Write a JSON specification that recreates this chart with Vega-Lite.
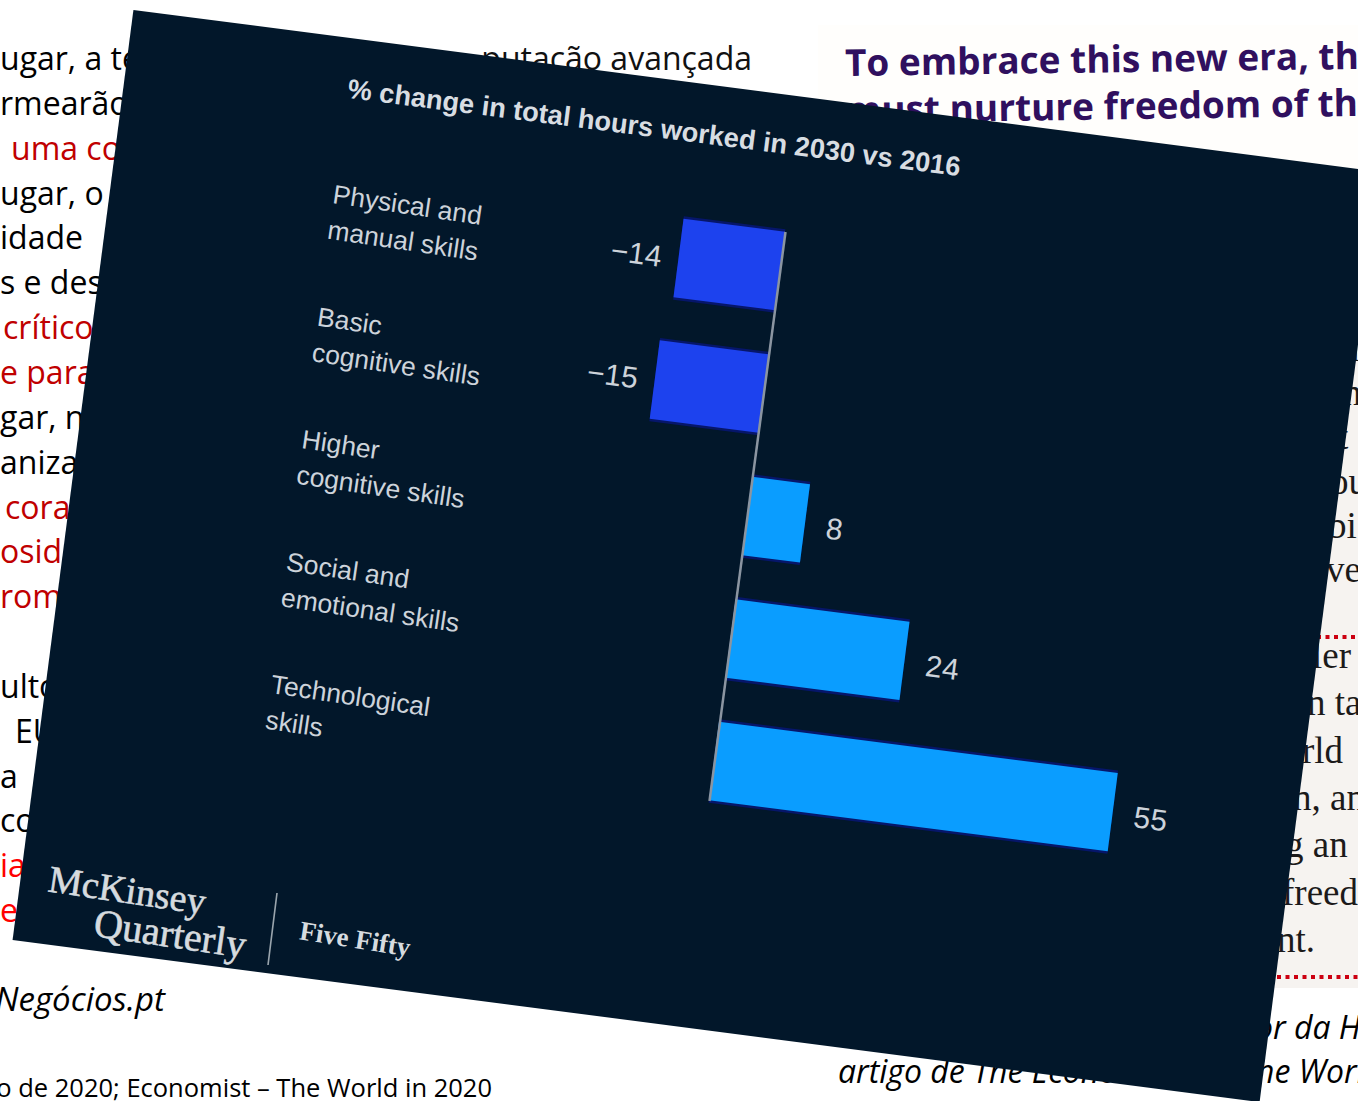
{
  "$schema": "https://vega.github.io/schema/vega-lite/v6.json",
  "width": 1358,
  "height": 1101,
  "padding": 0,
  "autosize": "none",
  "background": "#ffffff",
  "config": {"view": {"stroke": null}, "axis": {"disable": true}, "legend": {"disable": true}},
  "datasets": {
    "skills": [
      {"skill": "Physical and\nmanual skills", "value": -14},
      {"skill": "Basic\ncognitive skills", "value": -15},
      {"skill": "Higher\ncognitive skills", "value": 8},
      {"skill": "Social and\nemotional skills", "value": 24},
      {"skill": "Technological\nskills", "value": 55}
    ],
    "leftPage": [
      {"line": 0, "text": "ugar, a te", "tone": "black"},
      {"line": 1, "text": "rmearão", "tone": "black"},
      {"line": 2, "text": "uma co", "tone": "dark"},
      {"line": 3, "text": "ugar,  o", "tone": "black"},
      {"line": 4, "text": "idade", "tone": "black"},
      {"line": 5, "text": "s e des", "tone": "black"},
      {"line": 6, "text": "crítico", "tone": "dark"},
      {"line": 7, "text": "e para", "tone": "dark"},
      {"line": 8, "text": "gar, n", "tone": "black"},
      {"line": 9, "text": "anizaç", "tone": "black"},
      {"line": 10, "text": "cora", "tone": "dark"},
      {"line": 11, "text": "osida", "tone": "dark"},
      {"line": 12, "text": "rom", "tone": "dark"},
      {"line": 14, "text": "ulto", "tone": "black"},
      {"line": 15, "text": "EU", "tone": "black"},
      {"line": 16, "text": "a", "tone": "black"},
      {"line": 17, "text": "co", "tone": "black"},
      {"line": 18, "text": "ia", "tone": "bright"},
      {"line": 19, "text": "er", "tone": "bright"}
    ],
    "rightUpper": [
      {"line": 0, "text": "l"},
      {"line": 1, "text": "n"},
      {"line": 2, "text": "t"},
      {"line": 3, "text": "ou"},
      {"line": 4, "text": "bi"},
      {"line": 5, "text": "ve"}
    ],
    "rightLower": [
      {"line": 0, "text": "ler"},
      {"line": 1, "text": "n ta"},
      {"line": 2, "text": "rld"},
      {"line": 3, "text": "n, an"},
      {"line": 4, "text": "g an"},
      {"line": 5, "text": "freed"},
      {"line": 6, "text": "nt."}
    ]
  },
  "layer": [
    {
      "data": {"values": [{"part": "page top"}]},
      "mark": {"type": "rect", "color": "#fffefc"},
      "encoding": {
        "x": {"datum": 818, "type": "quantitative", "scale": {"domain": [0, 1358], "nice": false, "zero": false}},
        "x2": {"datum": 1358},
        "y": {"datum": 25, "type": "quantitative", "scale": {"domain": [0, 1101], "reverse": true, "nice": false, "zero": false}},
        "y2": {"datum": 340}
      }
    },
    {
      "data": {"values": [{"part": "page body"}]},
      "mark": {"type": "rect", "color": "#f6f3f0"},
      "encoding": {
        "x": {"datum": 1200, "type": "quantitative", "scale": {"domain": [0, 1358], "nice": false, "zero": false}},
        "x2": {"datum": 1358},
        "y": {"datum": 340, "type": "quantitative", "scale": {"domain": [0, 1101], "reverse": true, "nice": false, "zero": false}},
        "y2": {"datum": 988}
      }
    },
    {
      "data": {"name": "leftPage"},
      "transform": [
        {"calculate": "60 + 44.85 * datum.line", "as": "rowY"},
        {"calculate": "[0,0,11,0,0,0,3,0,0,0,5,0,0,0,0,15,0,0,0,0][datum.line]", "as": "rowX"}
      ],
      "mark": {"type": "text", "align": "left", "baseline": "middle", "font": "Open Sans", "fontSize": 32},
      "encoding": {
        "x": {"field": "rowX", "type": "quantitative", "scale": {"domain": [0, 1358], "nice": false, "zero": false}},
        "y": {"field": "rowY", "type": "quantitative", "scale": {"domain": [0, 1101], "reverse": true, "nice": false, "zero": false}},
        "text": {"field": "text"},
        "color": {"field": "tone", "type": "nominal", "scale": {"domain": ["black", "dark", "bright"], "range": ["#000000", "#c00000", "#ff0000"]}}
      }
    },
    {
      "data": {"values": [{"text": "putação avançada"}]},
      "mark": {"type": "text", "align": "right", "baseline": "middle", "font": "Open Sans", "fontSize": 32, "color": "#111111"},
      "encoding": {
        "x": {"datum": 752, "type": "quantitative", "scale": {"domain": [0, 1358], "nice": false, "zero": false}},
        "y": {"datum": 60, "type": "quantitative", "scale": {"domain": [0, 1101], "reverse": true, "nice": false, "zero": false}},
        "text": {"field": "text"}
      }
    },
    {
      "data": {"values": [{"text": "Negócios.pt"}]},
      "mark": {"type": "text", "align": "right", "baseline": "middle", "font": "Open Sans", "fontSize": 33, "fontStyle": "italic", "color": "#000000"},
      "encoding": {
        "x": {"datum": 165, "type": "quantitative", "scale": {"domain": [0, 1358], "nice": false, "zero": false}},
        "y": {"datum": 1001, "type": "quantitative", "scale": {"domain": [0, 1101], "reverse": true, "nice": false, "zero": false}},
        "text": {"field": "text"}
      }
    },
    {
      "data": {"values": [{"text": "o de 2020; Economist – The World in 2020"}]},
      "mark": {"type": "text", "align": "right", "baseline": "middle", "font": "Open Sans", "fontSize": 25.5, "color": "#000000"},
      "encoding": {
        "x": {"datum": 492, "type": "quantitative", "scale": {"domain": [0, 1358], "nice": false, "zero": false}},
        "y": {"datum": 1089, "type": "quantitative", "scale": {"domain": [0, 1101], "reverse": true, "nice": false, "zero": false}},
        "text": {"field": "text"}
      }
    },
    {
      "data": {"values": [{"text": "To embrace this new era, th"}]},
      "mark": {"type": "text", "align": "left", "baseline": "middle", "font": "Open Sans", "fontWeight": "bold", "fontSize": 37, "angle": 359.2, "color": "#30105f"},
      "encoding": {
        "x": {"datum": 845, "type": "quantitative", "scale": {"domain": [0, 1358], "nice": false, "zero": false}},
        "y": {"datum": 65, "type": "quantitative", "scale": {"domain": [0, 1101], "reverse": true, "nice": false, "zero": false}},
        "text": {"field": "text"}
      }
    },
    {
      "data": {"values": [{"text": "must nurture freedom of th"}]},
      "mark": {"type": "text", "align": "right", "baseline": "middle", "font": "Open Sans", "fontWeight": "bold", "fontSize": 37, "angle": 359.2, "color": "#30105f"},
      "encoding": {
        "x": {"datum": 1358, "type": "quantitative", "scale": {"domain": [0, 1358], "nice": false, "zero": false}},
        "y": {"datum": 105, "type": "quantitative", "scale": {"domain": [0, 1101], "reverse": true, "nice": false, "zero": false}},
        "text": {"field": "text"}
      }
    },
    {
      "data": {"name": "rightUpper"},
      "transform": [
        {"calculate": "350 + 44.2 * datum.line", "as": "rowY"},
        {"calculate": "[1350,1343,1338,1330,1328,1326][datum.line]", "as": "rowX"}
      ],
      "mark": {"type": "text", "align": "left", "baseline": "middle", "font": "Liberation Serif", "fontSize": 37, "color": "#1c1a1a"},
      "encoding": {
        "x": {"field": "rowX", "type": "quantitative", "scale": {"domain": [0, 1358], "nice": false, "zero": false}},
        "y": {"field": "rowY", "type": "quantitative", "scale": {"domain": [0, 1101], "reverse": true, "nice": false, "zero": false}},
        "text": {"field": "text"}
      }
    },
    {
      "data": {"name": "rightLower"},
      "transform": [
        {"calculate": "657 + 47.3 * datum.line", "as": "rowY"},
        {"calculate": "[1312,1307,1302,1293,1285,1282,1277][datum.line]", "as": "rowX"}
      ],
      "mark": {"type": "text", "align": "left", "baseline": "middle", "font": "Liberation Serif", "fontSize": 37, "color": "#1c1a1a"},
      "encoding": {
        "x": {"field": "rowX", "type": "quantitative", "scale": {"domain": [0, 1358], "nice": false, "zero": false}},
        "y": {"field": "rowY", "type": "quantitative", "scale": {"domain": [0, 1101], "reverse": true, "nice": false, "zero": false}},
        "text": {"field": "text"}
      }
    },
    {
      "data": {"values": [{"part": "rule above"}]},
      "mark": {"type": "rule", "color": "#cc0011", "strokeWidth": 4, "strokeDash": [4, 4.5]},
      "encoding": {
        "x": {"datum": 1300, "type": "quantitative", "scale": {"domain": [0, 1358], "nice": false, "zero": false}},
        "x2": {"datum": 1358},
        "y": {"datum": 637, "type": "quantitative", "scale": {"domain": [0, 1101], "reverse": true, "nice": false, "zero": false}},
        "y2": {"datum": 637}
      }
    },
    {
      "data": {"values": [{"part": "rule below"}]},
      "mark": {"type": "rule", "color": "#cc0011", "strokeWidth": 4, "strokeDash": [4, 4.5]},
      "encoding": {
        "x": {"datum": 1260, "type": "quantitative", "scale": {"domain": [0, 1358], "nice": false, "zero": false}},
        "x2": {"datum": 1358},
        "y": {"datum": 977, "type": "quantitative", "scale": {"domain": [0, 1101], "reverse": true, "nice": false, "zero": false}},
        "y2": {"datum": 977}
      }
    },
    {
      "data": {"values": [{"text": "artigo de The Economist"}]},
      "mark": {"type": "text", "align": "left", "baseline": "middle", "font": "Open Sans", "fontSize": 32, "fontStyle": "italic", "color": "#000000"},
      "encoding": {
        "x": {"datum": 838, "type": "quantitative", "scale": {"domain": [0, 1358], "nice": false, "zero": false}},
        "y": {"datum": 1073, "type": "quantitative", "scale": {"domain": [0, 1101], "reverse": true, "nice": false, "zero": false}},
        "text": {"field": "text"}
      }
    },
    {
      "data": {"values": [{"text": "or da Harvard"}]},
      "mark": {"type": "text", "align": "left", "baseline": "middle", "font": "Open Sans", "fontSize": 32, "fontStyle": "italic", "color": "#000000"},
      "encoding": {
        "x": {"datum": 1255, "type": "quantitative", "scale": {"domain": [0, 1358], "nice": false, "zero": false}},
        "y": {"datum": 1029, "type": "quantitative", "scale": {"domain": [0, 1101], "reverse": true, "nice": false, "zero": false}},
        "text": {"field": "text"}
      }
    },
    {
      "data": {"values": [{"text": "he World"}]},
      "mark": {"type": "text", "align": "left", "baseline": "middle", "font": "Open Sans", "fontSize": 32, "fontStyle": "italic", "color": "#000000"},
      "encoding": {
        "x": {"datum": 1256, "type": "quantitative", "scale": {"domain": [0, 1358], "nice": false, "zero": false}},
        "y": {"datum": 1073, "type": "quantitative", "scale": {"domain": [0, 1101], "reverse": true, "nice": false, "zero": false}},
        "text": {"field": "text"}
      }
    },
    {
      "data": {"values": [{"part": "chart panel"}]},
      "mark": {"type": "rule", "color": "#02172a", "strokeWidth": 938, "strokeCap": "butt"},
      "encoding": {
        "x": {"datum": 73, "type": "quantitative", "scale": {"domain": [0, 1358], "nice": false, "zero": false}},
        "x2": {"datum": 1320},
        "y": {"datum": 475, "type": "quantitative", "scale": {"domain": [0, 1101], "reverse": true, "nice": false, "zero": false}},
        "y2": {"datum": 637}
      }
    },
    {
      "data": {"name": "skills"},
      "transform": [
        {"window": [{"op": "row_number", "as": "rank"}]},
        {"calculate": "780 - 16.5 * (datum.rank - 1)", "as": "baseX"},
        {"calculate": "271 + 122.5 * (datum.rank - 1)", "as": "baseY"},
        {"calculate": "datum.baseX + 7.25 * datum.value", "as": "endX"},
        {"calculate": "datum.baseY + 0.93 * datum.value", "as": "endY"}
      ],
      "layer": [
        {
          "mark": {"type": "rule", "color": "#06166a", "strokeWidth": 84, "strokeCap": "butt"},
          "encoding": {
            "x": {"field": "baseX", "type": "quantitative", "scale": {"domain": [0, 1358], "nice": false, "zero": false}},
            "x2": {"field": "endX"},
            "y": {"field": "baseY", "type": "quantitative", "scale": {"domain": [0, 1101], "reverse": true, "nice": false, "zero": false}},
            "y2": {"field": "endY"}
          }
        },
        {
          "mark": {"type": "rule", "strokeWidth": 79, "strokeCap": "butt"},
          "encoding": {
            "x": {"field": "baseX", "type": "quantitative", "scale": {"domain": [0, 1358], "nice": false, "zero": false}},
            "x2": {"field": "endX"},
            "y": {"field": "baseY", "type": "quantitative", "scale": {"domain": [0, 1101], "reverse": true, "nice": false, "zero": false}},
            "y2": {"field": "endY"},
            "color": {"field": "value", "type": "quantitative", "scale": {"type": "threshold", "domain": [0], "range": ["#1d42ee", "#0a9dff"]}}
          }
        }
      ]
    },
    {
      "data": {"values": [{"part": "zero line"}]},
      "mark": {"type": "rule", "color": "#8b95a1", "strokeWidth": 2.5},
      "encoding": {
        "x": {"datum": 785.5, "type": "quantitative", "scale": {"domain": [0, 1358], "nice": false, "zero": false}},
        "x2": {"datum": 709.5},
        "y": {"datum": 232, "type": "quantitative", "scale": {"domain": [0, 1101], "reverse": true, "nice": false, "zero": false}},
        "y2": {"datum": 801}
      }
    },
    {
      "data": {"name": "skills"},
      "transform": [
        {"window": [{"op": "row_number", "as": "rank"}]},
        {"calculate": "333 - 15.5 * (datum.rank - 1)", "as": "labelX"},
        {"calculate": "195 + 122.5 * (datum.rank - 1)", "as": "labelY"}
      ],
      "mark": {"type": "text", "align": "left", "baseline": "middle", "lineBreak": "\n", "lineHeight": 36, "font": "Liberation Sans", "fontSize": 26.5, "angle": 8.4, "color": "#cdd3da"},
      "encoding": {
        "x": {"field": "labelX", "type": "quantitative", "scale": {"domain": [0, 1358], "nice": false, "zero": false}},
        "y": {"field": "labelY", "type": "quantitative", "scale": {"domain": [0, 1101], "reverse": true, "nice": false, "zero": false}},
        "text": {"field": "skill"}
      }
    },
    {
      "data": {"name": "skills"},
      "transform": [
        {"window": [{"op": "row_number", "as": "rank"}]},
        {"filter": "datum.value > 0"},
        {"calculate": "780 - 16.5 * (datum.rank - 1) + 7.25 * datum.value + 21", "as": "labelX"},
        {"calculate": "271 + 122.5 * (datum.rank - 1) + 0.93 * datum.value + 6", "as": "labelY"}
      ],
      "mark": {"type": "text", "align": "left", "baseline": "middle", "font": "Liberation Sans", "fontSize": 30, "angle": 7.4, "color": "#cdd3da"},
      "encoding": {
        "x": {"field": "labelX", "type": "quantitative", "scale": {"domain": [0, 1358], "nice": false, "zero": false}},
        "y": {"field": "labelY", "type": "quantitative", "scale": {"domain": [0, 1101], "reverse": true, "nice": false, "zero": false}},
        "text": {"field": "value", "type": "quantitative", "format": "d"}
      }
    },
    {
      "data": {"name": "skills"},
      "transform": [
        {"window": [{"op": "row_number", "as": "rank"}]},
        {"filter": "datum.value < 0"},
        {"calculate": "780 - 16.5 * (datum.rank - 1) + 7.25 * datum.value - 17", "as": "labelX"},
        {"calculate": "271 + 122.5 * (datum.rank - 1) + 0.93 * datum.value", "as": "labelY"}
      ],
      "mark": {"type": "text", "align": "right", "baseline": "middle", "font": "Liberation Sans", "fontSize": 30, "angle": 7.4, "color": "#cdd3da"},
      "encoding": {
        "x": {"field": "labelX", "type": "quantitative", "scale": {"domain": [0, 1358], "nice": false, "zero": false}},
        "y": {"field": "labelY", "type": "quantitative", "scale": {"domain": [0, 1101], "reverse": true, "nice": false, "zero": false}},
        "text": {"field": "value", "type": "quantitative", "format": "d"}
      }
    },
    {
      "data": {"values": [{"text": "% change in total hours worked in 2030 vs 2016"}]},
      "mark": {"type": "text", "align": "center", "baseline": "middle", "font": "Liberation Sans", "fontWeight": "bold", "fontSize": 27.3, "angle": 7.3, "color": "#d8dde2"},
      "encoding": {
        "x": {"datum": 654, "type": "quantitative", "scale": {"domain": [0, 1358], "nice": false, "zero": false}},
        "y": {"datum": 129, "type": "quantitative", "scale": {"domain": [0, 1101], "reverse": true, "nice": false, "zero": false}},
        "text": {"field": "text"}
      }
    },
    {
      "data": {"values": [{"text": "McKinsey"}]},
      "mark": {"type": "text", "align": "center", "baseline": "middle", "font": "Liberation Serif", "fontSize": 38, "angle": 8.4, "color": "#d6dbdf", "stroke": "#d6dbdf", "strokeWidth": 0.6},
      "encoding": {
        "x": {"datum": 127, "type": "quantitative", "scale": {"domain": [0, 1358], "nice": false, "zero": false}},
        "y": {"datum": 892, "type": "quantitative", "scale": {"domain": [0, 1101], "reverse": true, "nice": false, "zero": false}},
        "text": {"field": "text"}
      }
    },
    {
      "data": {"values": [{"text": "Quarterly"}]},
      "mark": {"type": "text", "align": "center", "baseline": "middle", "font": "Liberation Serif", "fontSize": 40, "angle": 8.4, "color": "#d6dbdf", "stroke": "#d6dbdf", "strokeWidth": 0.6},
      "encoding": {
        "x": {"datum": 170, "type": "quantitative", "scale": {"domain": [0, 1358], "nice": false, "zero": false}},
        "y": {"datum": 935, "type": "quantitative", "scale": {"domain": [0, 1101], "reverse": true, "nice": false, "zero": false}},
        "text": {"field": "text"}
      }
    },
    {
      "data": {"values": [{"part": "logo divider"}]},
      "mark": {"type": "rule", "color": "#9aa5ad", "strokeWidth": 1.6},
      "encoding": {
        "x": {"datum": 277, "type": "quantitative", "scale": {"domain": [0, 1358], "nice": false, "zero": false}},
        "x2": {"datum": 268},
        "y": {"datum": 893, "type": "quantitative", "scale": {"domain": [0, 1101], "reverse": true, "nice": false, "zero": false}},
        "y2": {"datum": 965}
      }
    },
    {
      "data": {"values": [{"text": "Five Fifty"}]},
      "mark": {"type": "text", "align": "center", "baseline": "middle", "font": "Liberation Serif", "fontWeight": "bold", "fontSize": 27, "angle": 9, "color": "#d6dbdf"},
      "encoding": {
        "x": {"datum": 355, "type": "quantitative", "scale": {"domain": [0, 1358], "nice": false, "zero": false}},
        "y": {"datum": 940, "type": "quantitative", "scale": {"domain": [0, 1101], "reverse": true, "nice": false, "zero": false}},
        "text": {"field": "text"}
      }
    }
  ]
}
